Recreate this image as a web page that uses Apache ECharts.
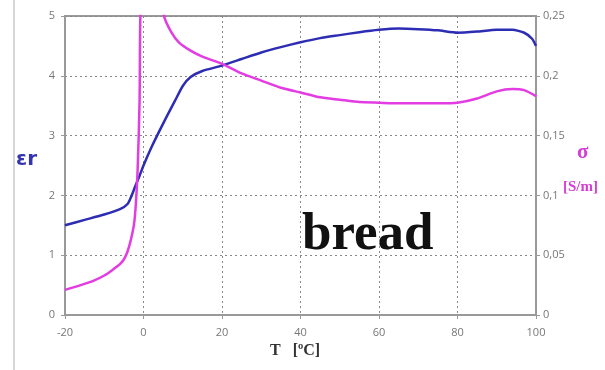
<!DOCTYPE html>
<html>
<head>
<meta charset="utf-8">
<script src="https://cdn.jsdelivr.net/npm/echarts@6/dist/echarts.min.js"></script>
<style>
  html, body { margin: 0; padding: 0; background: #ffffff; }
  #chart { width: 605px; height: 370px; }
</style>
</head>
<body>
<div id="chart"></div>
<script>
// Relative permittivity (left axis) of bread against temperature
const epsTemps = [-20, -15, -10, -6, -4, -3, -2, -1, 0, 2, 4, 6, 8, 10, 12, 15, 20, 25, 30, 35, 40, 45, 50, 55, 60, 65, 70, 75, 80, 85, 90, 94, 97, 99, 100];
const epsValues = [1.50, 1.59, 1.68, 1.77, 1.86, 2.0, 2.17, 2.33, 2.5, 2.8, 3.07, 3.33, 3.58, 3.83, 3.98, 4.08, 4.17, 4.28, 4.39, 4.48, 4.56, 4.63, 4.68, 4.73, 4.77, 4.79, 4.78, 4.76, 4.72, 4.74, 4.77, 4.77, 4.72, 4.62, 4.50];

// Conductivity in S/m (right axis)
const sigmaTemps = [-20, -16, -12.5, -10, -8, -6, -4.8, -3.6, -2.3, -1.5, -1, -0.8, 0, 2, 4, 5.3, 7, 9, 12, 15, 20, 25, 30, 35, 40, 45, 50, 55, 60, 65, 70, 75, 80, 85, 90, 94, 97, 100];
const sigmaValues = [0.021, 0.025, 0.029, 0.033, 0.0375, 0.0425, 0.0475, 0.058, 0.079, 0.121, 0.179, 0.249, 0.29, 0.30, 0.27, 0.249, 0.237, 0.228, 0.221, 0.216, 0.210, 0.202, 0.196, 0.190, 0.186, 0.182, 0.180, 0.178, 0.1775, 0.177, 0.177, 0.177, 0.1775, 0.181, 0.187, 0.189, 0.188, 0.183];

const xTicks = { min: -20, max: 100, step: 20 };
const epsTicks = { min: 0, max: 5, step: 1 };
const sigmaTicks = { min: 0, max: 0.25, step: 0.05 };

const pairs = (xs, ys) => xs.map((x, i) => [x, ys[i]]);

const labelStyle = { color: '#777', fontSize: 11, fontFamily: 'Open Sans, sans-serif' };
const dotted = { show: true, lineStyle: { color: '#888', type: [2, 3], width: 1 } };
const axisLine = { show: true, onZero: false, lineStyle: { color: '#999', width: 2 } };
const axisTick = { show: true, length: 4, lineStyle: { color: '#999', width: 1 } };

const chart = echarts.init(document.getElementById('chart'), null, { renderer: 'canvas' });
chart.setOption({
  animation: false,
  backgroundColor: '#ffffff',
  grid: { left: 65, right: 69, top: 16, bottom: 55, show: true, borderColor: '#999', borderWidth: 2 },
  xAxis: {
    type: 'value', min: xTicks.min, max: xTicks.max, interval: xTicks.step,
    axisLine, axisTick, splitLine: dotted,
    axisLabel: Object.assign({ margin: 12 }, labelStyle)
  },
  yAxis: [
    {
      type: 'value', min: epsTicks.min, max: epsTicks.max, interval: epsTicks.step,
      axisLine, axisTick, splitLine: dotted,
      axisLabel: Object.assign({ margin: 10 }, labelStyle)
    },
    {
      type: 'value', min: sigmaTicks.min, max: sigmaTicks.max, interval: sigmaTicks.step,
      position: 'right', axisLine, axisTick, splitLine: { show: false },
      axisLabel: Object.assign({
        margin: 7,
        formatter: v => String(+v.toFixed(2)).replace('.', ',')
      }, labelStyle)
    }
  ],
  series: [
    {
      name: 'εr', type: 'line', yAxisIndex: 0, data: pairs(epsTemps, epsValues),
      showSymbol: false, smooth: 0.2, clip: true,
      lineStyle: { color: '#2d2db4', width: 2.5 }
    },
    {
      name: 'σ', type: 'line', yAxisIndex: 1, data: pairs(sigmaTemps, sigmaValues),
      showSymbol: false, smooth: 0.2, clip: true,
      lineStyle: { color: '#e23ce2', width: 2.5 }
    }
  ],
  graphic: [
    { type: 'line', shape: { x1: 14, y1: 0, x2: 14, y2: 370 }, style: { stroke: '#c8c8c8', lineWidth: 1.5 } },
    { type: 'text', left: 16, top: 150, style: { text: 'εr', fill: '#3434b0', font: 'bold 20px "DejaVu Sans", sans-serif' } },
    { type: 'text', left: 577, top: 142, style: { text: 'σ', fill: '#d63cd6', font: 'bold 21px "Liberation Serif", serif' } },
    { type: 'text', left: 563, top: 180, style: { text: '[S/m]', fill: '#d63cd6', font: 'bold 15px "Liberation Serif", serif' } },
    { type: 'text', left: 302, top: 209, style: { text: 'bread', fill: '#111', font: 'bold 53px "Liberation Serif", serif' } },
    { type: 'text', left: 270, top: 343, style: { text: 'T   [ºC]', fill: '#333', font: 'bold 16px "Liberation Serif", serif' } }
  ]
});
</script>
</body>
</html>
